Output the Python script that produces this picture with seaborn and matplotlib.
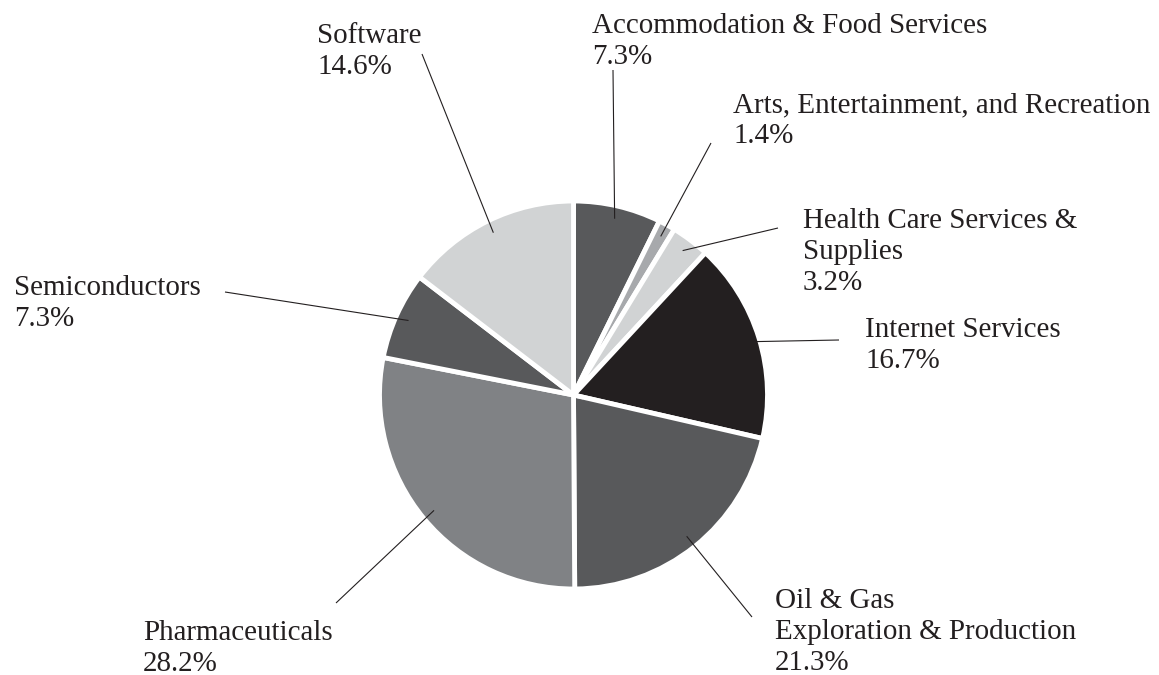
import matplotlib
matplotlib.use('Agg')
import matplotlib.pyplot as plt
import seaborn as sns
import numpy as np

# ---- data ----
categories = ["Accommodation & Food Services",
              "Arts, Entertainment, and Recreation",
              "Health Care Services & Supplies",
              "Internet Services",
              "Oil & Gas Exploration & Production",
              "Pharmaceuticals",
              "Semiconductors",
              "Software"]
shares = [7.3, 1.4, 3.2, 16.7, 21.3, 28.2, 7.3, 14.6]
label_lines = [["Accommodation & Food Services"],
               ["Arts, Entertainment, and Recreation"],
               ["Health Care Services &", "Supplies"],
               ["Internet Services"],
               ["Oil & Gas", "Exploration & Production"],
               ["Pharmaceuticals"],
               ["Semiconductors"],
               ["Software"]]
colors = ["#58595b", "#a7a9ac", "#d1d3d4", "#231f20",
          "#58595b", "#808285", "#58595b", "#d1d3d4"]

# ---- layout (pixel positions, y measured from top; first-line baseline) ----
W, H = 1159, 675
text_pos = [(592, 33), (733, 112), (803, 228), (865, 337),
            (775, 608), (143, 640), (14, 295), (317, 43)]
line_outer = [(613, 70), (711, 143), (778, 228), (839, 340),
              (752, 617), (336, 603), (225, 292), (422, 54)]
line_step = 31

sns.set_theme(style='white')
plt.rcParams['font.family'] = ['Liberation Serif', 'DejaVu Serif']

fig = plt.figure(figsize=(W / 100, H / 100), dpi=100)
ax = fig.add_axes([0, 0, 1, 1])

cx, cy = 573.5, H - 395
R = 194
wedges, _ = ax.pie(shares, colors=colors, startangle=90, counterclock=False,
                   center=(cx, cy), radius=R, frame=True,
                   wedgeprops=dict(edgecolor='white', linewidth=3.5))
ax.set_xlim(0, W)
ax.set_ylim(0, H)
ax.set_aspect('equal')
ax.axis('off')

ink = '#231f20'
rk = 181
for w, lines, val, (tx, ty), (ox, oy) in zip(wedges, label_lines, shares,
                                              text_pos, line_outer):
    ang = np.deg2rad((w.theta1 + w.theta2) / 2)
    ix, iy = cx + rk * np.cos(ang), cy + rk * np.sin(ang)
    ax.plot([ix, ox], [iy, H - oy], color=ink, lw=0.8, solid_capstyle='butt')
    for k, s in enumerate(lines + [f"{val:.1f}%"]):
        ax.text(tx, H - (ty + k * line_step), s, ha='left', va='baseline',
                fontsize=20.9, color=ink)

fig.savefig('out.png', dpi=100)
